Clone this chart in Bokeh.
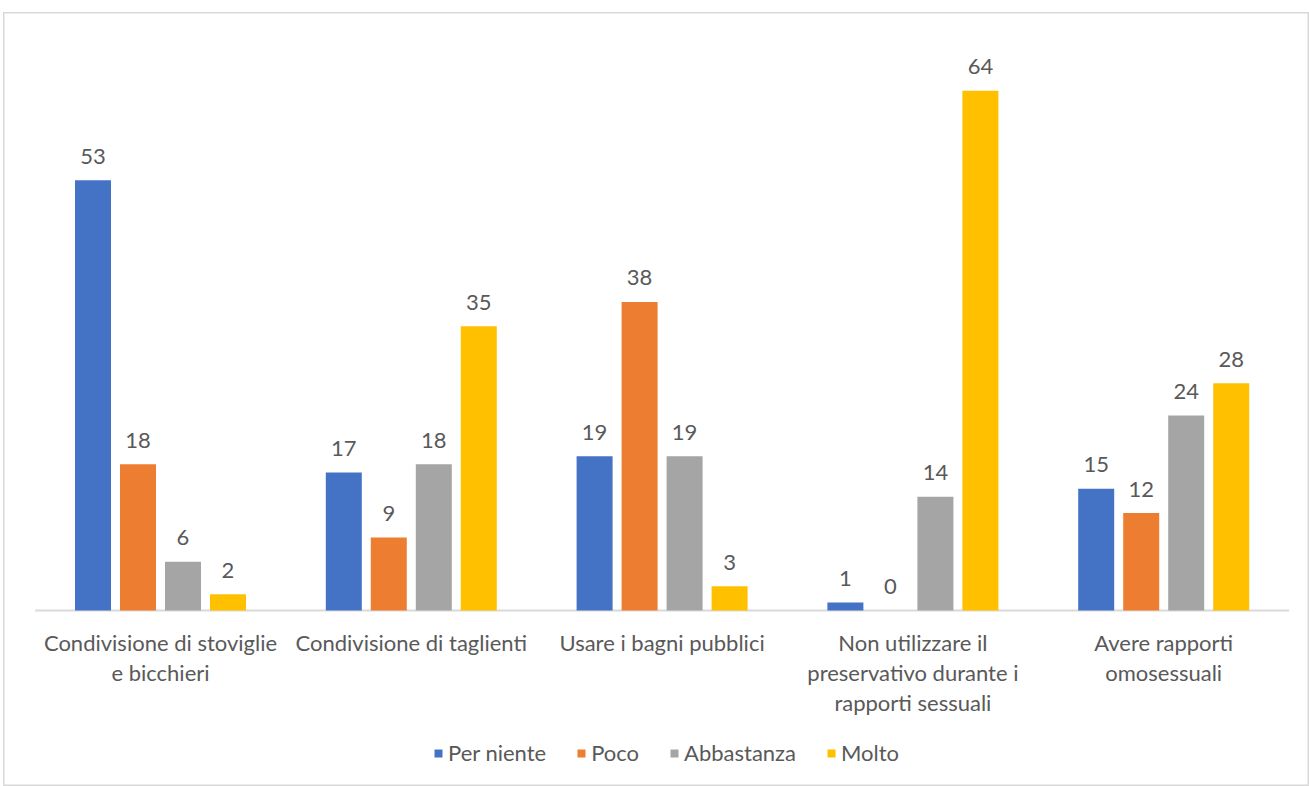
from bokeh.plotting import figure
from bokeh.models import ColumnDataSource, LabelSet, Legend, LegendItem, Range1d
from bokeh.core.properties import value
from bokeh.embed import file_html
from bokeh.resources import INLINE

categories = ["Condivisione di stoviglie\ne bicchieri", "Condivisione di taglienti",
              "Usare i bagni pubblici",
              "Non utilizzare il\npreservativo durante i\nrapporti sessuali",
              "Avere rapporti\nomosessuali"]
series_names = ["Per niente", "Poco", "Abbastanza", "Molto"]
per_niente = [53, 17, 19, 1, 15]
poco = [18, 9, 38, 0, 12]
abbastanza = [6, 18, 19, 14, 24]
molto = [2, 35, 3, 64, 28]
colors = ["#4472C4", "#ED7D31", "#A5A5A5", "#FFC000"]

FONT = "Lato"
FS = "22px"
TXT = "#595959"

W, H = 1306, 774
px_per_unit_x = 250.8
x0_px = 157.0  # frame px of first category center
px_per_unit_y = 8.12
base_px = 598.0  # from top

p = figure(width=W, height=H, output_backend="svg", toolbar_location=None,
           x_range=Range1d(-x0_px / px_per_unit_x, (W - x0_px) / px_per_unit_x),
           y_range=Range1d(-(H - base_px) / px_per_unit_y, base_px / px_per_unit_y),
           min_border_left=0, min_border_right=0, min_border_top=0, min_border_bottom=0)
p.margin = (12, 0, 0, 3)
p.xaxis.visible = False
p.yaxis.visible = False
p.xgrid.visible = False
p.ygrid.visible = False
p.outline_line_color = "#d9d9d9"
p.outline_line_width = 2
p.background_fill_color = "white"
p.border_fill_color = "white"

xs = list(range(len(categories)))
step = 45 / px_per_unit_x
bw = 36 / px_per_unit_x
offsets = [-1.5, -0.5, 0.5, 1.5]
all_vals = [per_niente, poco, abbastanza, molto]

# baseline
p.segment(x0=[-0.5], y0=[0], x1=[len(categories) - 0.5], y1=[0], line_color="#d9d9d9", line_width=2)

items = []
for name, vals, col, off in zip(series_names, all_vals, colors, offsets):
    src = ColumnDataSource(dict(x=[x + off * step for x in xs], top=vals,
                                lbl=[str(v) for v in vals]))
    r = p.vbar(x="x", top="top", bottom=0, width=bw, source=src, fill_color=col, line_color=None)
    items.append(LegendItem(label=name, renderers=[r]))
    p.add_layout(LabelSet(x="x", y="top", text="lbl", source=src, y_offset=24,
                          text_align="center", text_baseline="middle",
                          text_font=value(FONT), text_font_size=FS, text_color=TXT))

# category labels, one row per line
lx, ly, lt, lo = [], [], [], []
for x, c in zip(xs, categories):
    for i, line in enumerate(c.split("\n")):
        lx.append(x)
        ly.append(0)
        lt.append(line)
        lo.append(-32 - 30 * i)
cat_src = ColumnDataSource(dict(x=lx, y=ly, t=lt, yo=lo))
p.add_layout(LabelSet(x="x", y="y", text="t", source=cat_src, y_offset="yo",
                      text_align="center", text_baseline="middle",
                      text_font=value(FONT), text_font_size=FS, text_color=TXT))

legend = Legend(items=items, orientation="horizontal", location=(430, 20),
                glyph_width=10, glyph_height=10, label_standoff=5, spacing=30,
                padding=0, margin=0, border_line_color=None, background_fill_alpha=0,
                label_text_font=FONT, label_text_font_size=FS, label_text_color=TXT,
                label_height=22)
p.add_layout(legend)

open("out.html", "w").write(file_html(p, INLINE))
